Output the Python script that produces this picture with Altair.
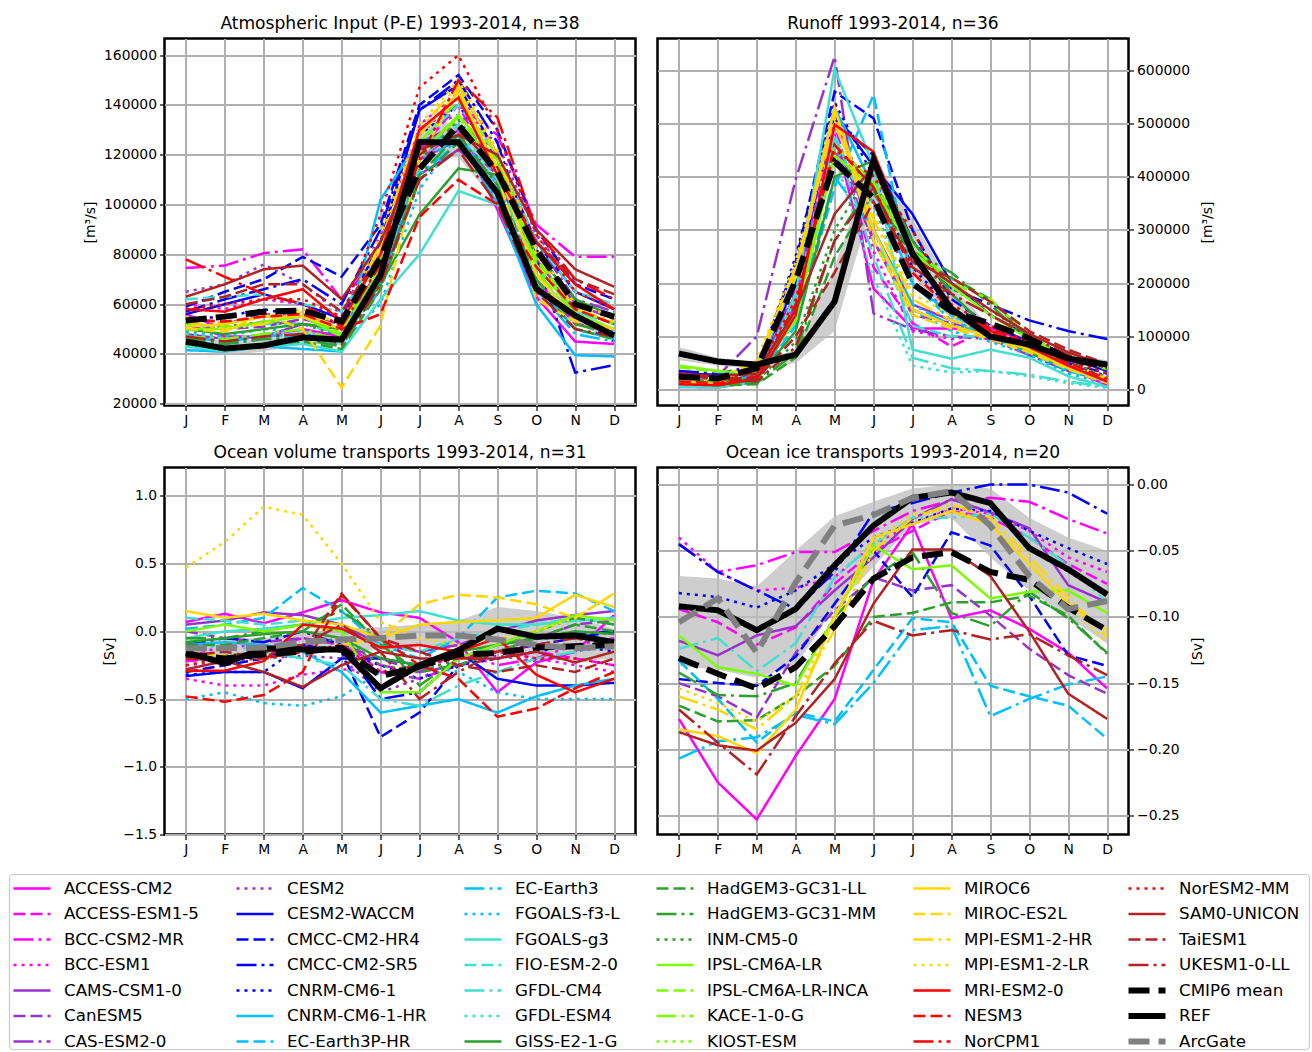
import json
import altair as alt
import pandas as pd

FONT = "DejaVu Sans"
MONTHS = ["J", "F", "M", "A", "M", "J", "J", "A", "S", "O", "N", "D"]

MODELS = ["ACCESS-CM2", "ACCESS-ESM1-5", "BCC-CSM2-MR", "BCC-ESM1", "CAMS-CSM1-0", "CanESM5",
          "CAS-ESM2-0", "CESM2", "CESM2-WACCM", "CMCC-CM2-HR4", "CMCC-CM2-SR5", "CNRM-CM6-1",
          "CNRM-CM6-1-HR", "EC-Earth3P-HR", "EC-Earth3", "FGOALS-f3-L", "FGOALS-g3", "FIO-ESM-2-0",
          "GFDL-CM4", "GFDL-ESM4", "GISS-E2-1-G", "HadGEM3-GC31-LL", "HadGEM3-GC31-MM", "INM-CM5-0",
          "IPSL-CM6A-LR", "IPSL-CM6A-LR-INCA", "KACE-1-0-G", "KIOST-ESM", "MIROC6", "MIROC-ES2L",
          "MPI-ESM1-2-HR", "MPI-ESM1-2-LR", "MRI-ESM2-0", "NESM3", "NorCPM1", "NorESM2-MM",
          "SAM0-UNICON", "TaiESM1", "UKESM1-0-LL"]
SPECIAL = ["CMIP6 mean", "REF", "ArcGate"]

COLOR_GROUPS = ["#ff00ff", "#9932cc", "#0000ff", "#00bfff", "#40e0d0",
                "#2ca02c", "#7cfc00", "#ffd700", "#ff0000", "#b22222"]
STYLE_CYCLE = ["solid", "dashed", "dashdot", "dotted"]
DASH_NAMES = ["solid", "dashed", "dashdot", "dotted", "thickdash"]
DASH_PATTERNS = [[1, 0], [12, 5], [20, 5, 3, 5], [3, 5], [21, 9]]

# ---------------- Atmospheric input (P-E) [m3/s] ----------------
PE = {
    "ACCESS-CM2": [52000, 47000, 47000, 50000, 47000, 68000, 118000, 130000, 98000, 63000, 45000, 44000],
    "ACCESS-ESM1-5": [56000, 50000, 53000, 52000, 50000, 75000, 122000, 140000, 110000, 70000, 52000, 50000],
    "BCC-CSM2-MR": [74500, 75500, 80500, 82000, 62000, 80000, 130000, 140000, 128000, 92000, 79000, 79000],
    "BCC-ESM1": [60000, 58000, 62000, 60000, 55000, 72000, 132000, 145000, 120000, 80000, 60000, 55000],
    "CAMS-CSM1-0": [48000, 46000, 47000, 52000, 50000, 70000, 112000, 122000, 110000, 78000, 58000, 52000],
    "CanESM5": [52000, 50000, 51000, 54000, 50000, 73000, 118000, 126000, 112000, 82000, 60000, 54000],
    "CAS-ESM2-0": [55000, 52000, 56000, 55000, 52000, 80000, 125000, 132000, 118000, 85000, 62000, 57000],
    "CESM2": [65000, 68000, 76000, 68000, 56000, 88000, 130000, 136000, 125000, 88000, 68000, 62000],
    "CESM2-WACCM": [56000, 60000, 64000, 60000, 54000, 85000, 138000, 148000, 120000, 85000, 65000, 58000],
    "CMCC-CM2-HR4": [59000, 65000, 70000, 79000, 71000, 92000, 140000, 152000, 130000, 90000, 68000, 62000],
    "CMCC-CM2-SR5": [57000, 62000, 66000, 70000, 60000, 90000, 138000, 150000, 125000, 78000, 32500, 35500],
    "CNRM-CM6-1": [54000, 55000, 58000, 55000, 50000, 82000, 128000, 140000, 118000, 82000, 55000, 45000],
    "CNRM-CM6-1-HR": [41500, 41000, 43000, 42000, 41000, 102000, 126000, 128000, 100000, 60000, 39500, 39000],
    "EC-Earth3P-HR": [47000, 45000, 47000, 48000, 45000, 70000, 115000, 128000, 105000, 68000, 50000, 46000],
    "EC-Earth3": [45000, 44000, 46000, 47000, 44000, 66000, 112000, 125000, 102000, 66000, 48000, 45000],
    "FGOALS-f3-L": [49000, 47000, 50000, 49000, 45000, 60000, 106000, 128000, 108000, 72000, 55000, 49000],
    "FGOALS-g3": [43000, 41000, 43000, 44000, 41000, 62000, 80000, 105500, 100000, 72000, 55000, 47000],
    "FIO-ESM-2-0": [62000, 63000, 64000, 60000, 57000, 80000, 125000, 140000, 120000, 85000, 65000, 60000],
    "GFDL-CM4": [52000, 50000, 52000, 52000, 48000, 72000, 118000, 132000, 110000, 75000, 57000, 52000],
    "GFDL-ESM4": [48000, 46000, 48000, 49000, 44000, 70000, 116000, 130000, 108000, 72000, 55000, 50000],
    "GISS-E2-1-G": [50000, 48000, 50000, 52000, 50000, 68000, 96000, 114500, 112000, 80000, 62000, 55000],
    "HadGEM3-GC31-LL": [44000, 42000, 44000, 45000, 42000, 66000, 110000, 125000, 105000, 68000, 50000, 46000],
    "HadGEM3-GC31-MM": [46000, 44000, 46000, 46000, 43000, 68000, 112000, 128000, 108000, 70000, 52000, 48000],
    "INM-CM5-0": [52000, 51000, 53000, 52000, 47000, 72000, 118000, 134000, 115000, 78000, 58000, 52000],
    "IPSL-CM6A-LR": [50000, 50000, 53000, 55000, 47000, 75000, 120000, 136000, 118000, 76000, 56000, 50000],
    "IPSL-CM6A-LR-INCA": [52000, 51000, 52000, 56000, 48000, 78000, 125000, 142000, 120000, 78000, 58000, 52000],
    "KACE-1-0-G": [47000, 46000, 48000, 50000, 45000, 72000, 120000, 135000, 115000, 74000, 54000, 50000],
    "MIROC6": [51000, 52000, 55000, 55000, 50000, 82000, 128000, 145000, 115000, 72000, 54000, 50000],
    "MIROC-ES2L": [50000, 49000, 56000, 50000, 26500, 51500, 118000, 147000, 112000, 62000, 53000, 50000],
    "MPI-ESM1-2-HR": [53000, 50000, 52000, 57000, 50000, 85000, 130000, 148000, 120000, 80000, 58000, 53000],
    "MPI-ESM1-2-LR": [55000, 52000, 55000, 58000, 52000, 88000, 132000, 150000, 122000, 82000, 60000, 55000],
    "MRI-ESM2-0": [58000, 57000, 62000, 66000, 53000, 80000, 130000, 143000, 112000, 85000, 68000, 58000],
    "NESM3": [54000, 53000, 55000, 56000, 50000, 56000, 95000, 110000, 100000, 75000, 58000, 52000],
    "NorCPM1": [78000, 71000, 64000, 60000, 51000, 76000, 118000, 150000, 135000, 90000, 70000, 62000],
    "NorESM2-MM": [58000, 60000, 62000, 62000, 55000, 96000, 147000, 160000, 130000, 88000, 65000, 58000],
    "SAM0-UNICON": [63000, 68000, 74000, 75500, 62000, 85000, 122000, 128000, 120000, 90000, 74000, 67000],
    "TaiESM1": [60000, 63000, 68000, 68000, 57000, 80000, 120000, 130000, 115000, 85000, 70000, 64000],
    "UKESM1-0-LL": [47000, 45000, 47000, 48000, 44000, 68000, 110000, 122000, 100000, 65000, 50000, 47000],
}
PE_REF = [45000, 42200, 43400, 46600, 45800, 71800, 125100, 125000, 104700, 66200, 55400, 47400]
PE_MEAN = [53400, 55000, 57000, 57400, 53000, 78600, 114300, 132000, 113000, 82000, 60000, 55000]
PE_LO = [42500, 39500, 41000, 44000, 43500, 68000, 119000, 119000, 100000, 63000, 52500, 45000]
PE_HI = [47500, 45000, 46000, 49500, 48500, 76000, 132000, 133000, 110000, 70000, 58500, 50000]

# ---------------- Runoff [m3/s] ----------------
RO = {
    "ACCESS-CM2": [5000, 4000, 15000, 160000, 480000, 190000, 115000, 115000, 110000, 80000, 40000, 8000],
    "ACCESS-ESM1-5": [8000, 6000, 18000, 170000, 500000, 230000, 125000, 81000, 115000, 85000, 45000, 12000],
    "BCC-CSM2-MR": [12000, 10000, 25000, 190000, 520000, 280000, 150000, 120000, 110000, 85000, 50000, 20000],
    "BCC-ESM1": [10000, 9000, 22000, 200000, 540000, 260000, 110000, 95000, 105000, 80000, 45000, 15000],
    "CAMS-CSM1-0": [15000, 12000, 30000, 180000, 470000, 300000, 160000, 130000, 100000, 75000, 40000, 20000],
    "CanESM5": [20000, 15000, 25000, 150000, 450000, 280000, 140000, 125000, 110000, 70000, 35000, 18000],
    "CAS-ESM2-0": [30000, 25000, 100000, 395000, 626000, 143000, 113000, 100000, 95000, 65000, 35000, 25000],
    "CESM2": [25000, 22000, 35000, 190000, 500000, 350000, 200000, 145000, 120000, 90000, 55000, 35000],
    "CESM2-WACCM": [30000, 28000, 38000, 200000, 520000, 420000, 330000, 200000, 140000, 100000, 60000, 35000],
    "CMCC-CM2-HR4": [25000, 22000, 40000, 240000, 560000, 510000, 300000, 170000, 120000, 90000, 50000, 30000],
    "CMCC-CM2-SR5": [35000, 30000, 45000, 230000, 510000, 440000, 280000, 190000, 160000, 130000, 110000, 95000],
    "CNRM-CM6-1": [20000, 18000, 35000, 250000, 540000, 400000, 230000, 150000, 110000, 85000, 50000, 25000],
    "CNRM-CM6-1-HR": [15000, 12000, 28000, 220000, 530000, 380000, 200000, 140000, 105000, 80000, 45000, 20000],
    "EC-Earth3P-HR": [10000, 8000, 20000, 120000, 380000, 554000, 200000, 130000, 100000, 70000, 35000, 15000],
    "EC-Earth3": [12000, 10000, 22000, 130000, 400000, 300000, 160000, 120000, 100000, 70000, 38000, 15000],
    "FGOALS-f3-L": [8000, 6000, 20000, 150000, 460000, 350000, 150000, 110000, 90000, 65000, 30000, 10000],
    "FGOALS-g3": [5000, 4000, 15000, 180000, 603000, 420000, 75000, 58000, 75000, 60000, 25000, 5000],
    "FIO-ESM-2-0": [10000, 8000, 20000, 170000, 480000, 300000, 120000, 100000, 100000, 75000, 40000, 15000],
    "GFDL-CM4": [6000, 5000, 18000, 160000, 470000, 250000, 60000, 40000, 35000, 28000, 15000, 5000],
    "GFDL-ESM4": [5000, 4000, 15000, 140000, 440000, 210000, 45000, 32000, 35000, 25000, 12000, 3000],
    "GISS-E2-1-G": [20000, 15000, 20000, 110000, 400000, 430000, 280000, 180000, 110000, 70000, 40000, 20000],
    "HadGEM3-GC31-LL": [12000, 8000, 10000, 60000, 250000, 370000, 250000, 210000, 170000, 95000, 50000, 20000],
    "HadGEM3-GC31-MM": [15000, 10000, 12000, 70000, 280000, 390000, 260000, 220000, 160000, 90000, 45000, 18000],
    "INM-CM5-0": [18000, 14000, 15000, 90000, 300000, 420000, 240000, 190000, 150000, 100000, 55000, 22000],
    "IPSL-CM6A-LR": [45000, 35000, 30000, 130000, 440000, 380000, 260000, 195000, 140000, 95000, 60000, 40000],
    "IPSL-CM6A-LR-INCA": [42000, 33000, 32000, 140000, 460000, 390000, 270000, 200000, 170000, 100000, 60000, 38000],
    "MIROC6": [15000, 12000, 40000, 220000, 530000, 300000, 150000, 120000, 100000, 75000, 40000, 15000],
    "MIROC-ES2L": [12000, 10000, 45000, 210000, 520000, 280000, 140000, 115000, 95000, 70000, 38000, 12000],
    "MPI-ESM1-2-HR": [20000, 18000, 50000, 230000, 500000, 320000, 170000, 130000, 105000, 80000, 45000, 20000],
    "MPI-ESM1-2-LR": [22000, 20000, 55000, 240000, 510000, 330000, 180000, 140000, 110000, 85000, 50000, 22000],
    "MRI-ESM2-0": [10000, 8000, 20000, 140000, 498000, 447000, 260000, 150000, 110000, 80000, 45000, 15000],
    "NESM3": [15000, 12000, 25000, 160000, 460000, 380000, 220000, 150000, 115000, 85000, 50000, 20000],
    "NorESM2-MM": [25000, 20000, 30000, 170000, 450000, 400000, 300000, 160000, 120000, 90000, 55000, 30000],
    "SAM0-UNICON": [30000, 25000, 30000, 150000, 330000, 420000, 250000, 200000, 150000, 105000, 70000, 45000],
    "TaiESM1": [28000, 22000, 20000, 100000, 220000, 353000, 240000, 210000, 165000, 110000, 75000, 48000],
    "UKESM1-0-LL": [25000, 20000, 15000, 80000, 280000, 380000, 230000, 180000, 140000, 100000, 65000, 40000],
}
RO_REF = [67700, 52600, 47000, 65800, 165400, 432000, 256000, 152000, 99600, 84600, 58300, 47000]
RO_MEAN = [24000, 21000, 40000, 205000, 428000, 360000, 199000, 147000, 124000, 96000, 58000, 43000]
RO_LO = [55000, 45000, 38000, 50000, 110000, 360000, 215000, 135000, 90000, 75000, 50000, 40000]
RO_HI = [80000, 60000, 52000, 75000, 230000, 440000, 320000, 195000, 118000, 95000, 66000, 55000]

# ---------------- Ocean volume transports [Sv] ----------------
OV = {
    "ACCESS-CM2": [0.07, 0.13, 0.06, 0.14, 0.23, 0.14, 0.1, -0.08, -0.45, -0.23, -0.15, 0.12],
    "ACCESS-ESM1-5": [-0.22, -0.2, -0.15, -0.1, -0.05, -0.3, -0.35, -0.25, -0.2, -0.15, -0.2, -0.25],
    "BCC-CSM2-MR": [-0.2, -0.1, -0.12, -0.05, -0.1, -0.25, -0.3, -0.15, -0.25, -0.2, -0.1, -0.05],
    "BCC-ESM1": [-0.35, -0.4, -0.4, -0.32, -0.28, -0.3, -0.3, -0.2, -0.15, -0.2, -0.25, -0.3],
    "CAMS-CSM1-0": [0.05, 0.08, 0.14, 0.12, 0.05, -0.1, -0.15, -0.1, 0.0, 0.08, 0.12, 0.15],
    "CanESM5": [0.0, -0.05, -0.08, -0.05, -0.1, -0.2, -0.3, -0.25, -0.15, -0.05, 0.05, 0.08],
    "CESM2": [-0.25, -0.22, -0.2, -0.18, -0.2, -0.45, -0.35, -0.2, -0.18, -0.22, -0.15, -0.1],
    "CESM2-WACCM": [-0.33, -0.3, -0.3, -0.42, -0.2, -0.2, -0.25, -0.15, -0.35, -0.4, -0.4, -0.38],
    "CMCC-CM2-HR4": [-0.3, -0.25, -0.2, -0.1, -0.15, -0.78, -0.6, -0.25, -0.15, -0.1, -0.05, 0.0],
    "CMCC-CM2-SR5": [-0.1, -0.05, -0.08, 0.0, -0.1, -0.5, -0.45, -0.2, -0.1, -0.05, -0.02, 0.0],
    "CNRM-CM6-1": [-0.32, -0.3, -0.3, -0.1, -0.15, -0.25, -0.35, -0.25, -0.2, -0.15, -0.1, -0.15],
    "CNRM-CM6-1-HR": [-0.1, -0.08, -0.1, -0.15, -0.3, -0.6, -0.55, -0.5, -0.6, -0.48, -0.4, -0.35],
    "EC-Earth3P-HR": [0.02, 0.05, 0.1, 0.32, 0.15, -0.1, -0.2, -0.05, 0.25, 0.3, 0.28, 0.15],
    "FGOALS-f3-L": [-0.5, -0.45, -0.53, -0.55, -0.48, -0.3, -0.25, -0.3, -0.45, -0.5, -0.5, -0.5],
    "FGOALS-g3": [-0.05, 0.0, 0.02, 0.05, 0.1, 0.12, 0.15, 0.08, 0.05, 0.05, 0.08, 0.1],
    "FIO-ESM-2-0": [0.1, 0.08, 0.05, 0.08, 0.0, -0.1, -0.15, -0.05, 0.0, 0.05, 0.1, 0.05],
    "GFDL-CM4": [-0.15, -0.1, -0.15, -0.2, -0.25, -0.5, -0.55, -0.4, -0.3, -0.2, -0.15, -0.1],
    "GISS-E2-1-G": [-0.08, -0.05, -0.02, 0.0, -0.05, -0.2, -0.25, -0.15, -0.1, -0.05, 0.0, -0.02],
    "HadGEM3-GC31-LL": [-0.1, -0.1, -0.05, 0.0, 0.2, -0.1, -0.3, -0.25, -0.15, -0.05, 0.05, 0.0],
    "HadGEM3-GC31-MM": [-0.05, -0.05, 0.0, 0.05, 0.15, -0.05, -0.4, -0.2, -0.1, 0.0, 0.1, 0.05],
    "INM-CM5-0": [-0.2, -0.18, -0.15, -0.1, -0.05, -0.25, -0.3, -0.2, -0.1, -0.05, -0.05, -0.1],
    "IPSL-CM6A-LR": [0.0, 0.05, 0.0, 0.05, 0.0, -0.45, -0.45, -0.2, -0.1, 0.0, 0.12, 0.08],
    "MIROC6": [0.15, 0.1, 0.13, 0.08, 0.05, -0.05, 0.05, 0.07, 0.08, 0.1, 0.27, 0.18],
    "MIROC-ES2L": [-0.15, -0.18, -0.2, -0.15, -0.1, -0.05, 0.2, 0.27, 0.25, 0.2, 0.1, 0.28],
    "MPI-ESM1-2-LR": [0.47, 0.66, 0.92, 0.86, 0.5, 0.07, -0.05, -0.1, -0.05, 0.0, 0.1, 0.28],
    "MRI-ESM2-0": [-0.29, -0.29, -0.22, 0.05, 0.02, -0.12, -0.1, -0.15, -0.05, -0.32, -0.45, -0.35],
    "NESM3": [-0.48, -0.52, -0.47, -0.3, 0.27, -0.05, -0.25, -0.35, -0.63, -0.57, -0.42, -0.3],
    "NorESM2-MM": [-0.25, -0.2, -0.2, -0.15, -0.1, -0.3, -0.25, -0.2, -0.15, -0.2, -0.2, -0.25],
    "SAM0-UNICON": [-0.28, -0.22, -0.3, -0.41, -0.25, -0.15, -0.2, -0.2, -0.2, -0.15, -0.23, -0.15],
    "TaiESM1": [-0.18, -0.15, -0.2, -0.15, 0.28, -0.05, -0.15, -0.25, -0.3, -0.25, -0.3, -0.2],
    "UKESM1-0-LL": [-0.2, -0.22, -0.15, -0.1, 0.05, -0.15, -0.5, -0.3, -0.15, -0.1, -0.05, -0.1],
}
OV_REF = [-0.155, -0.236, -0.125, -0.133, -0.133, -0.42, -0.25, -0.14, 0.02, -0.04, -0.03, -0.08]
OV_MEAN = [-0.17, -0.2, -0.17, -0.15, -0.12, -0.33, -0.26, -0.17, -0.16, -0.12, -0.11, -0.1]
OV_ARC = [-0.125, -0.125, -0.12, -0.08, -0.06, -0.05, -0.03, -0.03, -0.06, -0.1, -0.125, -0.11]
OV_LO = [-0.2, -0.2, -0.2, -0.16, -0.14, -0.14, -0.12, -0.12, -0.15, -0.2, -0.22, -0.2]
OV_HI = [-0.05, -0.05, -0.05, -0.01, 0.02, 0.03, 0.05, 0.08, 0.18, 0.15, 0.1, 0.02]

# ---------------- Ocean ice transports [Sv] ----------------
IT = {
    "ACCESS-CM2": [-0.177, -0.225, -0.253, -0.205, -0.162, -0.072, -0.03, -0.101, -0.095, -0.109, -0.127, -0.154],
    "ACCESS-ESM1-5": [-0.094, -0.104, -0.121, -0.108, -0.075, -0.05, -0.035, -0.02, -0.025, -0.04, -0.06, -0.075],
    "BCC-CSM2-MR": [-0.045, -0.066, -0.061, -0.051, -0.051, -0.035, -0.02, -0.012, -0.01, -0.013, -0.026, -0.037],
    "BCC-ESM1": [-0.04, -0.066, -0.08, -0.078, -0.07, -0.045, -0.03, -0.018, -0.022, -0.035, -0.055, -0.066],
    "CAMS-CSM1-0": [-0.118, -0.129, -0.114, -0.107, -0.08, -0.055, -0.026, -0.011, -0.021, -0.033, -0.076, -0.089],
    "CanESM5": [-0.15, -0.16, -0.176, -0.127, -0.095, -0.07, -0.08, -0.076, -0.099, -0.124, -0.144, -0.158],
    "CMCC-CM2-HR4": [-0.147, -0.15, -0.152, -0.13, -0.09, -0.05, -0.085, -0.036, -0.046, -0.084, -0.129, -0.137],
    "CMCC-CM2-SR5": [-0.045, -0.066, -0.08, -0.094, -0.066, -0.021, -0.014, -0.006, 0.0, 0.0, -0.006, -0.022],
    "CNRM-CM6-1": [-0.082, -0.085, -0.093, -0.08, -0.06, -0.04, -0.029, -0.018, -0.02, -0.035, -0.048, -0.06],
    "EC-Earth3P-HR": [-0.133, -0.162, -0.195, -0.172, -0.179, -0.14, -0.101, -0.104, -0.152, -0.16, -0.167, -0.192],
    "EC-Earth3": [-0.207, -0.194, -0.191, -0.174, -0.181, -0.15, -0.11, -0.107, -0.175, -0.162, -0.151, -0.145],
    "GFDL-CM4": [-0.124, -0.116, -0.141, -0.12, -0.07, -0.045, -0.025, -0.025, -0.022, -0.04, -0.061, -0.089],
    "HadGEM3-GC31-LL": [-0.167, -0.179, -0.178, -0.16, -0.137, -0.1, -0.097, -0.089, -0.089, -0.084, -0.099, -0.128],
    "HadGEM3-GC31-MM": [-0.142, -0.159, -0.16, -0.15, -0.1, -0.07, -0.051, -0.097, -0.107, -0.081, -0.101, -0.127],
    "IPSL-CM6A-LR": [-0.114, -0.138, -0.143, -0.152, -0.1, -0.046, -0.064, -0.061, -0.086, -0.081, -0.08, -0.097],
    "MIROC6": [-0.185, -0.19, -0.203, -0.17, -0.1, -0.04, -0.03, -0.02, -0.03, -0.06, -0.09, -0.11],
    "MPI-ESM1-2-HR": [-0.16, -0.17, -0.185, -0.16, -0.11, -0.05, -0.025, -0.015, -0.025, -0.055, -0.085, -0.115],
    "MPI-ESM1-2-LR": [-0.154, -0.165, -0.179, -0.16, -0.1, -0.045, -0.022, -0.018, -0.03, -0.06, -0.09, -0.12],
    "SAM0-UNICON": [-0.187, -0.197, -0.201, -0.18, -0.147, -0.09, -0.049, -0.049, -0.069, -0.111, -0.158, -0.177],
    "UKESM1-0-LL": [-0.17, -0.195, -0.219, -0.175, -0.135, -0.103, -0.114, -0.11, -0.117, -0.113, -0.129, -0.144],
}
IT_REF = [-0.092, -0.095, -0.11, -0.094, -0.061, -0.031, -0.01, -0.006, -0.014, -0.048, -0.064, -0.083]
IT_MEAN = [-0.131, -0.143, -0.154, -0.138, -0.107, -0.071, -0.055, -0.051, -0.066, -0.072, -0.093, -0.11]
IT_ARC = [-0.104, -0.086, -0.127, -0.074, -0.031, -0.023, -0.01, -0.005, -0.031, -0.069, -0.094, -0.088]
IT_LO = [-0.137, -0.14, -0.146, -0.137, -0.093, -0.062, -0.03, -0.025, -0.055, -0.08, -0.1, -0.12]
IT_HI = [-0.069, -0.071, -0.077, -0.05, -0.024, -0.013, -0.003, 0.0, -0.003, -0.025, -0.04, -0.05]

# ---------------- styling helpers ----------------
model_color = {m: COLOR_GROUPS[i // 4] for i, m in enumerate(MODELS)}
model_style = {m: STYLE_CYCLE[i % 4] for i, m in enumerate(MODELS)}
style_scale = alt.Scale(domain=DASH_NAMES, range=DASH_PATTERNS)
month_expr = json.dumps(MONTHS) + "[datum.value]"

X_SCALE = alt.Scale(domain=[-0.55, 11.55], nice=False, zero=False)
X_AXIS = alt.Axis(values=list(range(12)), labelExpr=month_expr, title=None)


def make_panel(title, models, ref, mean, lo, hi, domain, ticks, fmt, ytitle, orient, arc=None):
    rows = []
    for m in MODELS:
        if m in models:
            for i, v in enumerate(models[m]):
                rows.append({"model": m, "m": i, "v": v,
                             "color": model_color[m], "style": model_style[m]})
    df = pd.DataFrame(rows)

    srows = []
    for name, vals, col, sty in [("CMIP6 mean", mean, "black", "thickdash"),
                                 ("REF", ref, "black", "solid"),
                                 ("ArcGate", arc, "#808080", "thickdash")]:
        if vals is None:
            continue
        for i, v in enumerate(vals):
            srows.append({"series": name, "m": i, "v": v, "color": col, "style": sty})
    sdf = pd.DataFrame(srows)

    y_scale = alt.Scale(domain=domain, nice=False, zero=False)
    if orient == "right":
        y_axis = alt.Axis(values=ticks, format=fmt, title=ytitle, orient=orient,
                          titleAngle=270, titleBaseline="top", titlePadding=11)
    else:
        y_axis = alt.Axis(values=ticks, format=fmt, title=ytitle, orient=orient,
                          titleAngle=270, titlePadding=6)
    x = alt.X("m:Q", scale=X_SCALE, axis=X_AXIS)

    band_df = pd.DataFrame({"m": list(range(12)), "lo": lo, "hi": hi})
    band = alt.Chart(band_df).mark_area(color="#bdbdbd", opacity=0.75).encode(
        x=x, y=alt.Y("lo:Q", scale=y_scale, axis=y_axis), y2="hi:Q")

    lines = alt.Chart(df).mark_line(strokeWidth=2.5, strokeCap="butt").encode(
        x=x, y=alt.Y("v:Q", scale=y_scale, axis=y_axis),
        color=alt.Color("color:N", scale=None),
        strokeDash=alt.StrokeDash("style:N", scale=style_scale, legend=None),
        detail="model:N")

    spec = alt.Chart(sdf).mark_line(strokeWidth=6, strokeCap="butt").encode(
        x=x, y=alt.Y("v:Q", scale=y_scale, axis=y_axis),
        color=alt.Color("color:N", scale=None),
        strokeDash=alt.StrokeDash("style:N", scale=style_scale, legend=None),
        detail="series:N")

    return alt.layer(band, lines, spec).properties(
        width=471, height=367, title=alt.Title(title))


p1 = make_panel("Atmospheric Input (P-E) 1993-2014, n=38", PE, PE_REF, PE_MEAN, PE_LO, PE_HI,
                [19300, 166700], [20000, 40000, 60000, 80000, 100000, 120000, 140000, 160000],
                "d", "[m³/s]", "left")
p2 = make_panel("Runoff 1993-2014, n=36", RO, RO_REF, RO_MEAN, RO_LO, RO_HI,
                [-30000, 660000], [0, 100000, 200000, 300000, 400000, 500000, 600000],
                "d", "[m³/s]", "right")
p3 = make_panel("Ocean volume transports 1993-2014, n=31", OV, OV_REF, OV_MEAN, OV_LO, OV_HI,
                [-1.5, 1.21], [-1.5, -1.0, -0.5, 0.0, 0.5, 1.0], ".1f", "[Sv]", "left", arc=OV_ARC)
p4 = make_panel("Ocean ice transports 1993-2014, n=20", IT, IT_REF, IT_MEAN, IT_LO, IT_HI,
                [-0.2644, 0.0129], [-0.25, -0.2, -0.15, -0.1, -0.05, 0.0], ".2f", "[Sv]", "right",
                arc=IT_ARC)

# ---------------- legend (matplotlib-style, column-major) ----------------
LEGEND_NAMES = MODELS + SPECIAL
SPECIAL_STYLE = {"CMIP6 mean": ("black", "thickdash"), "REF": ("black", "solid"),
                 "ArcGate": ("#808080", "thickdash")}
leg_rows = []
for i, name in enumerate(LEGEND_NAMES):
    if name in model_color:
        c, s, w = model_color[name], model_style[name], 2.5
    else:
        c, s = SPECIAL_STYLE[name]
        w = 6
    leg_rows.append({"name": name, "col": i // 7, "row": i % 7, "color": c, "style": s, "lw": w})
ldf = pd.DataFrame(leg_rows)

LEG_X = [-151, 72, 300, 492, 749, 964]
leg_x = alt.X("col:Q", scale=alt.Scale(domain=[0, 1, 2, 3, 4, 5], range=LEG_X), axis=None)
leg_y = alt.Y("row:Q", scale=alt.Scale(domain=[0, 6], range=[-8, 145]), axis=None)

frame = alt.Chart(pd.DataFrame({"k": [0]})).mark_rect(
    fill="white", stroke="#cccccc", strokeWidth=1.2, cornerRadius=4).encode(
    x=alt.value(-155), x2=alt.value(1145), y=alt.value(-22), y2=alt.value(153))
handles = alt.Chart(ldf).mark_rule(x2Offset=37, strokeCap="butt").encode(
    x=leg_x, x2=alt.X2("col"), y=leg_y,
    color=alt.Color("color:N", scale=None),
    strokeDash=alt.StrokeDash("style:N", scale=style_scale, legend=None),
    strokeWidth=alt.StrokeWidth("lw:Q", scale=None))
labels = alt.Chart(ldf).mark_text(align="left", baseline="middle", dx=50.5, font=FONT,
                                  fontSize=16.7, color="black").encode(
    x=leg_x, y=leg_y, text="name:N")
legend = alt.layer(frame, handles, labels).properties(
    width=471, height=130, view=alt.ViewBackground(stroke="transparent"))

chart = alt.concat(p1, p2, p3, p4, legend, columns=2, bounds="flush",
                   spacing={"row": 62, "column": 22}).properties(
    padding={"left": 7.5, "top": 13.5, "right": 0, "bottom": 0}
).configure_view(
    stroke="black", strokeWidth=2.5
).configure_axis(
    labelFont=FONT, labelFontSize=13.9, labelColor="black",
    titleFont=FONT, titleFontSize=13.9, titleFontWeight="normal", titleColor="black",
    tickColor="black", tickSize=5, tickWidth=1.2, domain=False,
    grid=True, gridColor="#b0b0b0", gridWidth=2,
    labelPadding=3, labelOverlap=False, labelFlush=False
).configure_title(
    font=FONT, fontSize=17.1, fontWeight="normal", color="black", offset=6, anchor="middle"
)

chart.save("out.html", embed_options={"renderer": "svg", "actions": False})
